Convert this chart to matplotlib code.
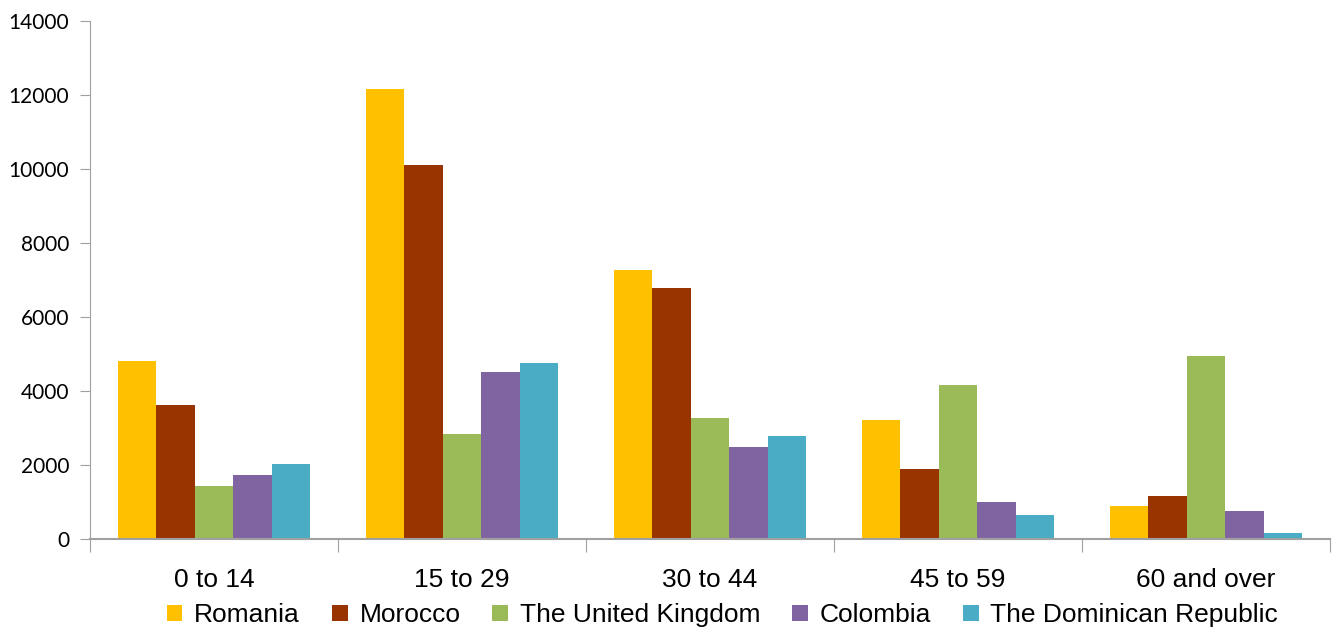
import numpy as np
import matplotlib.pyplot as plt

# age groups and residents by country of origin
age_groups = ["0 to 14", "15 to 29", "30 to 44", "45 to 59", "60 and over"]
countries = ["Romania", "Morocco", "The United Kingdom", "Colombia",
             "The Dominican Republic"]
romania = [4800, 12160, 7270, 3220, 890]
morocco = [3620, 10100, 6780, 1890, 1160]
united_kingdom = [1430, 2840, 3270, 4160, 4950]
colombia = [1730, 4510, 2490, 1000, 760]
dominican_rep = [2030, 4760, 2780, 650, 160]
colors = ["#FFC000", "#993300", "#9BBB59", "#8064A2", "#4BACC6"]

series = [romania, morocco, united_kingdom, colombia, dominican_rep]

fig = plt.figure(figsize=(13.34, 6.3), dpi=100)
ax = fig.add_axes([0.0675, 0.1444, 0.9295, 0.8223])

x = np.arange(len(age_groups))
group_w = 0.774
bar_w = group_w / len(series)
for i, (vals, name, c) in enumerate(zip(series, countries, colors)):
    offs = -group_w / 2 + bar_w * (i + 0.5)
    ax.bar(x + offs, vals, bar_w, color=c, label=name, zorder=2)

ax.set_xlim(-0.5, len(age_groups) - 0.5)
ax.set_ylim(0, 14000)
ax.set_yticks(np.arange(0, 14001, 2000))
ax.tick_params(axis="y", direction="out", length=7, color="#A0A0A0",
               labelsize=15, labelfontfamily="Lato", pad=8)

# category ticks sit on the group boundaries, labels in the middle
ax.set_xticks(np.arange(-0.5, len(age_groups)), minor=False)
ax.set_xticklabels([])
ax.set_xticks(x, minor=True)
ax.set_xticklabels(age_groups, minor=True, fontsize=19,
                   fontfamily="Liberation Sans")
ax.tick_params(axis="x", which="major", direction="out", length=9,
               color="#A0A0A0")
ax.tick_params(axis="x", which="minor", length=0, pad=21)

for side in ["top", "right"]:
    ax.spines[side].set_visible(False)
ax.spines["left"].set_color("#A0A0A0")
ax.spines["bottom"].set_color("#A0A0A0")
ax.spines["bottom"].set_linewidth(1.5)

ax.legend(loc="center", bbox_to_anchor=(0.51, -0.147), ncol=5,
          frameon=False, handlelength=0.6, handleheight=0.6,
          handletextpad=0.45, columnspacing=1.2, borderpad=0,
          prop={"family": "Liberation Sans", "size": 19})

fig.savefig("out.png", dpi=100)
